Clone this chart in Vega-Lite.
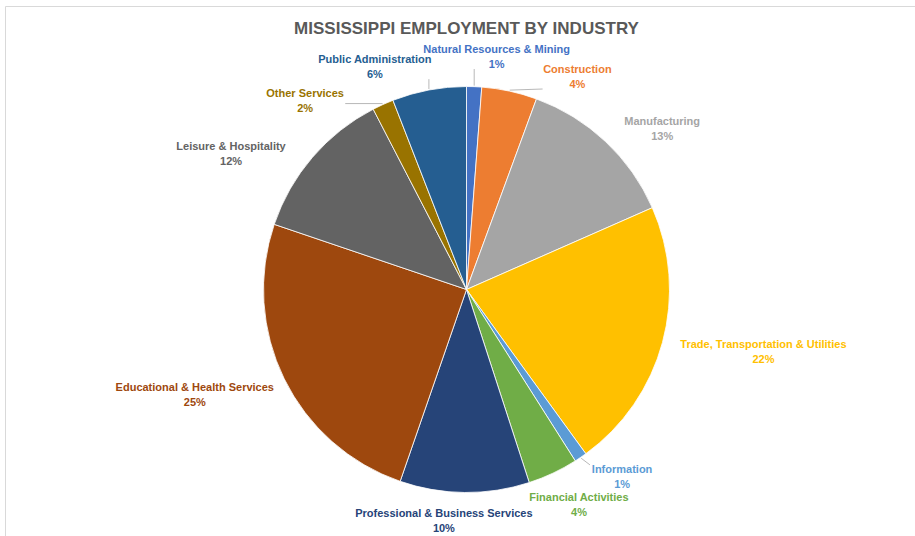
{
  "$schema": "https://vega.github.io/schema/vega-lite/v6.json",
  "width": 923,
  "height": 567,
  "autosize": {"type": "none"},
  "padding": {"left": 5, "top": 6, "right": 0, "bottom": 0},
  "background": "white",
  "view": {"stroke": "#d9d9d9", "strokeWidth": 1},
  "title": {
    "text": "MISSISSIPPI EMPLOYMENT BY INDUSTRY",
    "font": "Liberation Sans",
    "fontSize": 17,
    "fontWeight": "bold",
    "color": "#595959",
    "anchor": "middle",
    "baseline": "alphabetic",
    "offset": -45
  },
  "data": {
    "values": [
      {"industry": "Natural Resources & Mining", "share": 1.2},
      {"industry": "Construction", "share": 4.4},
      {"industry": "Manufacturing", "share": 12.8},
      {"industry": "Trade, Transportation & Utilities", "share": 21.6},
      {"industry": "Information", "share": 1.0},
      {"industry": "Financial Activities", "share": 4.0},
      {"industry": "Professional & Business Services", "share": 10.3},
      {"industry": "Educational & Health Services", "share": 24.9},
      {"industry": "Leisure & Hospitality", "share": 12.2},
      {"industry": "Other Services", "share": 1.7},
      {"industry": "Public Administration", "share": 5.9}
    ]
  },
  "transform": [
    {"window": [{"op": "row_number", "as": "idx"}]},
    {"joinaggregate": [{"op": "sum", "field": "share", "as": "total"}]},
    {"window": [{"op": "sum", "field": "share", "as": "cum"}], "sort": [{"field": "idx"}], "frame": [null, 0]},
    {"calculate": "(datum.cum - datum.share / 2) / datum.total * 360", "as": "mid"},
    {"calculate": "(datum.cum - datum.share) / datum.total * 360", "as": "s0"},
    {"calculate": "datum.cum / datum.total * 360", "as": "s1"},
    {"calculate": "datum.mid < 270 ? datum.mid + 360 : datum.mid", "as": "m2"},
    {"calculate": "5.3 * length(datum.industry)", "as": "w"},
    {"window": [{"op": "row_number", "as": "k"}, {"op": "lag", "field": "m2", "as": "pm"}, {"op": "lag", "field": "w", "as": "pw"}], "sort": [{"field": "m2"}]},
    {"calculate": "datum.k == 1 ? 0 : (datum.pm + datum.m2) / 2 * PI / 180", "as": "phi"},
    {"calculate": "datum.k == 1 ? 0 : min(((datum.w + datum.pw) / 2 * 0.8 + 4) / (247 * abs(cos(datum.phi)) + 0.001), 29 / (232 * abs(sin(datum.phi)) + 0.001)) * 180 / PI", "as": "gap"},
    {"window": [{"op": "sum", "field": "gap", "as": "S"}], "sort": [{"field": "m2"}], "frame": [null, 0]},
    {"calculate": "datum.m2 - datum.S", "as": "d"},
    {"window": [{"op": "max", "field": "d", "as": "fmax"}], "sort": [{"field": "m2"}], "frame": [null, 0]},
    {"window": [{"op": "min", "field": "d", "as": "bmin"}], "sort": [{"field": "m2"}], "frame": [0, null]},
    {"calculate": "((datum.fmax + datum.bmin) / 2 + datum.S) * PI / 180", "as": "la"},
    {"calculate": "(datum.la * 180 / PI) % 360", "as": "laDeg"},
    {"calculate": "217 * sin(datum.la) + datum.w / 2 * clamp(1.3 * sin(datum.la), -1, 1)", "as": "lx"},
    {"calculate": "-217 * cos(datum.la) - 16 * clamp(1.5 * cos(datum.la), -1, 1) - 7.5", "as": "ly"},
    {"calculate": "sqrt(datum.lx * datum.lx + datum.ly * datum.ly)", "as": "lr"},
    {"calculate": "atan2(datum.lx, -datum.ly)", "as": "lt"},
    {"calculate": "datum.industry + '\\n' + format(datum.share, '.0f') + '%'", "as": "lbl"},
    {"calculate": "datum.laDeg < datum.s0 + 4 || datum.laDeg > datum.s1 - 4", "as": "leader"},
    {"calculate": "width / 2 + 204 * sin(datum.mid * PI / 180)", "as": "px"},
    {"calculate": "height / 2 - 204 * cos(datum.mid * PI / 180)", "as": "py"},
    {"calculate": "clamp(datum.px, width / 2 + datum.lx - datum.w / 2 - 3, width / 2 + datum.lx + datum.w / 2 + 3)", "as": "ex"},
    {"calculate": "clamp(datum.py, height / 2 + datum.ly - 5, height / 2 + datum.ly + 19)", "as": "ey"}
  ],
  "layer": [
    {
      "mark": {"type": "arc", "outerRadius": 203, "stroke": "#ffffff", "strokeWidth": 0.8},
      "encoding": {
        "theta": {"field": "share", "type": "quantitative", "stack": true},
        "order": {"field": "idx", "type": "quantitative"},
        "color": {
          "field": "industry",
          "type": "nominal",
          "legend": null,
          "scale": {
            "domain": ["Natural Resources & Mining", "Construction", "Manufacturing", "Trade, Transportation & Utilities", "Information", "Financial Activities", "Professional & Business Services", "Educational & Health Services", "Leisure & Hospitality", "Other Services", "Public Administration"],
            "range": ["#4472C4", "#ED7D31", "#A5A5A5", "#FFC000", "#5B9BD5", "#70AD47", "#264478", "#9E480E", "#636363", "#997300", "#255E91"]
          }
        }
      }
    },
    {
      "transform": [{"filter": "datum.leader"}],
      "mark": {"type": "rule", "color": "#a6a6a6", "strokeWidth": 0.8},
      "encoding": {
        "x": {"field": "px", "type": "quantitative", "scale": null},
        "y": {"field": "py", "type": "quantitative", "scale": null},
        "x2": {"field": "ex"},
        "y2": {"field": "ey"}
      }
    },
    {
      "mark": {
        "type": "text",
        "font": "Liberation Sans",
        "fontSize": 11,
        "fontWeight": "bold",
        "lineHeight": 15,
        "lineBreak": "\n",
        "align": "center",
        "baseline": "middle"
      },
      "encoding": {
        "theta": {"field": "lt", "type": "quantitative", "scale": null, "stack": null},
        "radius": {"field": "lr", "type": "quantitative", "scale": null},
        "text": {"field": "lbl", "type": "nominal"},
        "color": {"field": "industry", "type": "nominal", "legend": null}
      }
    }
  ],
  "resolve": {"scale": {"theta": "independent", "radius": "independent"}}
}
